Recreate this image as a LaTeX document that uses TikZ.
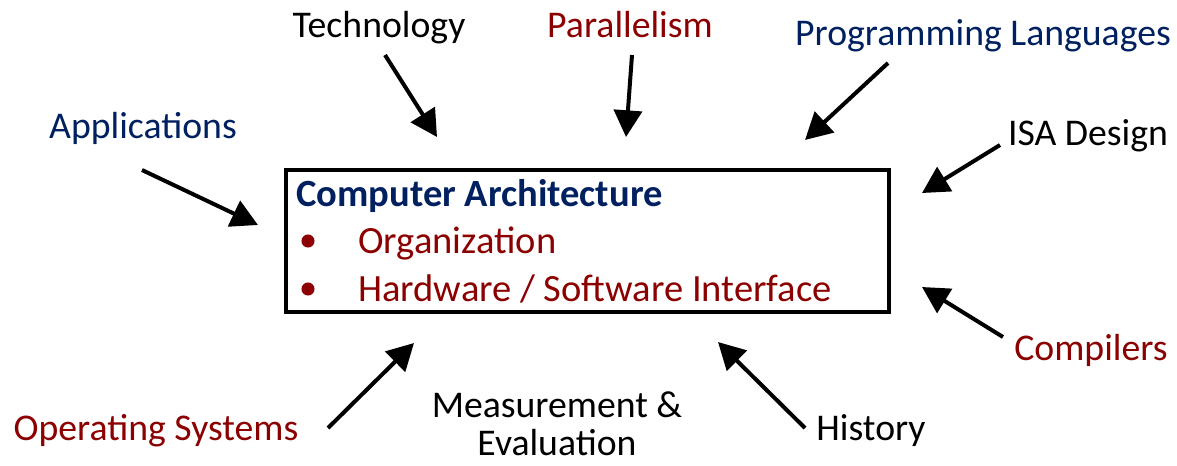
\documentclass[tikz,border=0pt]{standalone}
\usepackage{fontspec}
\setmainfont{Carlito}
\usetikzlibrary{arrows.meta}
\definecolor{archblue}{RGB}{0,32,96}
\definecolor{archred}{RGB}{139,0,0}
\newcommand{\labfont}{\fontsize{28.3}{30}\selectfont}
\newcommand{\boxfont}{\fontsize{28.9}{30}\selectfont}
\tikzset{
  topic/.style={anchor=base, inner sep=0pt, font=\labfont},
  push/.style={line width=3pt, -{Triangle[length=20pt,width=21pt]}},
}

\begin{document}
\begin{tikzpicture}[x=0.75pt,y=-0.75pt]
    \useasboundingbox (0,0) rectangle (1177,465);
    % the box
    \node[draw, line width=3pt, minimum width=452pt, minimum height=106.5pt, inner sep=0pt] (arch) at (587.5,241) {};
    \node[topic, anchor=base west, archblue, font=\boxfont\bfseries] (title) at (296,206) {Computer Architecture};
    \node[topic, anchor=base west, archred, font=\boxfont] (org) at (358,253) {Organization};
    \node[topic, anchor=base west, archred, font=\boxfont] (hwsw) at (358,301) {Hardware / Software Interface};
    \foreach \dot in {org,hwsw} {\fill[archred] ([shift={(-50,-12)}]\dot.base west) circle (4.9pt);}

    % labels round it
    \node[topic] (tech) at (379,37) {Technology};
    \node[topic, archred] (par) at (630,37) {Parallelism};
    \node[topic, archblue] (prog) at (983,45) {Programming Languages};
    \node[topic, archblue] (app) at (143,138) {Applications};
    \node[topic] (isa) at (1088,145) {ISA Design};
    \node[topic, archred] (comp) at (1091,360) {Compilers};
    \node[topic, archred] (os) at (156,440) {Operating Systems};
    \node[topic, align=center] (meas) at (557,455) {Measurement \&\\[-1.5pt]Evaluation};
    \node[topic] (hist) at (871,440) {History};

    % arrows into the box
    \foreach \n/\s/\e in {tech/{385,55}/{437,137}, par/{632,55}/{626,137}, prog/{888,63}/{805,140},
                          app/{142,170}/{258,225}, isa/{1000,145}/{922,193}, comp/{1003,337}/{922,287},
                          os/{328,428}/{414,343}, hist/{805,428}/{718,342}} {
      \coordinate (\n from) at (\s);
      \coordinate (\n to) at (\e);
      \draw[push] (\n from) -- (\n to);
    }
\end{tikzpicture}
\end{document}
